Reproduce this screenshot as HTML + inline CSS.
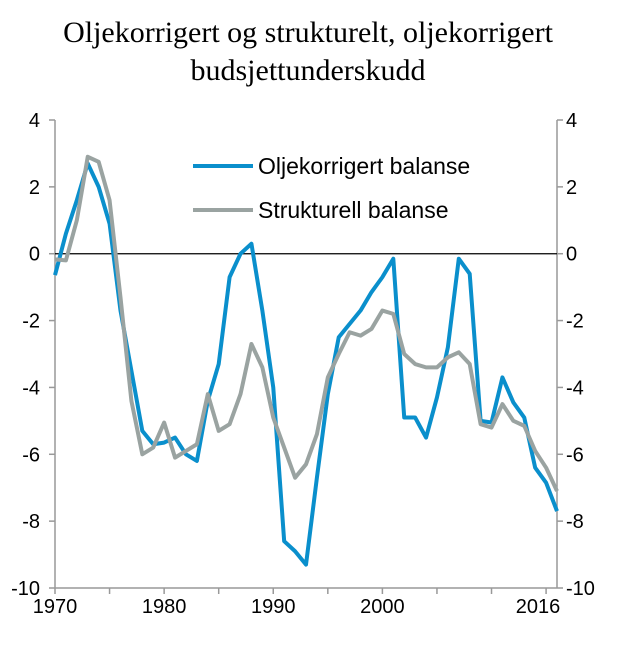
<!DOCTYPE html>
<html><head><meta charset="utf-8"><style>
body{margin:0;background:#fff}
svg text{font-family:"Liberation Sans",sans-serif}
</style></head><body>
<svg width="620" height="648" xmlns="http://www.w3.org/2000/svg">
<text x="308" y="42" text-anchor="middle" style="font-family:'Liberation Serif',serif;font-size:30px">Oljekorrigert og strukturelt, oljekorrigert</text>
<text x="308" y="80" text-anchor="middle" style="font-family:'Liberation Serif',serif;font-size:30px">budsjettunderskudd</text>
<g id="axes"></g>
<g id="series"></g>
<g>
<line x1="193" y1="166" x2="253" y2="166" stroke="#0a8fcc" stroke-width="4"/>
<text x="258" y="174" font-size="23">Oljekorrigert balanse</text>
<line x1="193" y1="210" x2="253" y2="210" stroke="#9aa3a1" stroke-width="4"/>
<text x="258" y="218" font-size="23">Strukturell balanse</text>
</g>
</svg>
<script>
const years = [];
for (let y = 1970; y <= 2016; y++) years.push(y);
const oljekorrigert = [-0.64,0.6,1.6,2.7,2.0,0.9,-1.7,-3.5,-5.3,-5.7,-5.65,-5.5,-6.0,-6.2,-4.4,-3.3,-0.7,0.0,0.3,-1.7,-4.0,-8.6,-8.9,-9.3,-6.7,-4.2,-2.5,-2.1,-1.7,-1.15,-0.7,-0.15,-4.9,-4.9,-5.5,-4.3,-2.8,-0.15,-0.6,-5.0,-5.05,-3.7,-4.45,-4.9,-6.4,-6.85,-7.7];
const strukturell = [-0.17,-0.2,1.0,2.9,2.75,1.6,-1.3,-4.4,-6.0,-5.8,-5.05,-6.1,-5.9,-5.7,-4.2,-5.3,-5.1,-4.2,-2.7,-3.4,-4.9,-5.8,-6.7,-6.3,-5.4,-3.7,-3.0,-2.35,-2.45,-2.25,-1.7,-1.8,-3.0,-3.3,-3.4,-3.4,-3.1,-2.95,-3.3,-5.1,-5.2,-4.5,-5.0,-5.15,-5.9,-6.4,-7.1];
const yTicks = [4,2,0,-2,-4,-6,-8,-10];
const xLabels = [1970,1980,1990,2000,2016];
const xTickYears = [1970,1975,1980,1985,1990,1995,2000,2005,2010,2015];

const L=55,R=557,T=120,B=588;
const xs = y => L + (y-1970)*(R-L)/46;
const ys = v => T + (4-v)*(B-T)/14;
const NS="http://www.w3.org/2000/svg";
function mk(tag, attrs, parent){const e=document.createElementNS(NS,tag);for(const k in attrs)e.setAttribute(k,attrs[k]);parent.appendChild(e);return e;}
const ax=document.getElementById('axes');
let e;
e=mk('line',{x1:L,y1:T,x2:L,y2:B,stroke:'#999','stroke-width':1.5},ax);


e=mk('line',{x1:R,y1:T,x2:R,y2:B,stroke:'#999','stroke-width':1.5},ax);


e=mk('line',{x1:L,y1:B,x2:R,y2:B,stroke:'#999','stroke-width':1.5},ax);


e=mk('line',{x1:L,y1:ys(0),x2:R,y2:ys(0),stroke:'#000','stroke-width':1.2},ax);


yTicks.forEach(v=>{
  const y=ys(v);
  mk('line',{x1:L-6,y1:y,x2:L,y2:y,stroke:'#999','stroke-width':1.5},ax);
  mk('line',{x1:R,y1:y,x2:R+6,y2:y,stroke:'#999','stroke-width':1.5},ax);
  const t1=mk('text',{x:40,y:y+7,'text-anchor':'end','font-size':20},ax);t1.textContent=v;
  
  
  const t2=mk('text',{x:566,y:y+7,'font-size':20},ax);t2.textContent=v;
  
  
});
xTickYears.forEach(yr=>{mk('line',{x1:xs(yr),y1:B,x2:xs(yr),y2:B+6,stroke:'#999','stroke-width':1.5},ax);});
xLabels.forEach(yr=>{
  const cx = yr===2016 ? 538 : xs(yr);
  const t=mk('text',{x:cx,y:613,'text-anchor':'middle','font-size':20},ax);t.textContent=yr;
  
  
});
const sg=document.getElementById('series');
function line(vals,color,name){
  const p=mk('polyline',{points:vals.map((v,i)=>xs(years[i])+','+ys(v)).join(' '),fill:'none',stroke:color,'stroke-width':4,'stroke-linejoin':'round'},sg);
  
  
}
line(oljekorrigert,'#0a8fcc','oljekorrigert-balanse-line');
line(strukturell,'#9aa3a1','strukturell-balanse-line');
</script>
</body></html>
